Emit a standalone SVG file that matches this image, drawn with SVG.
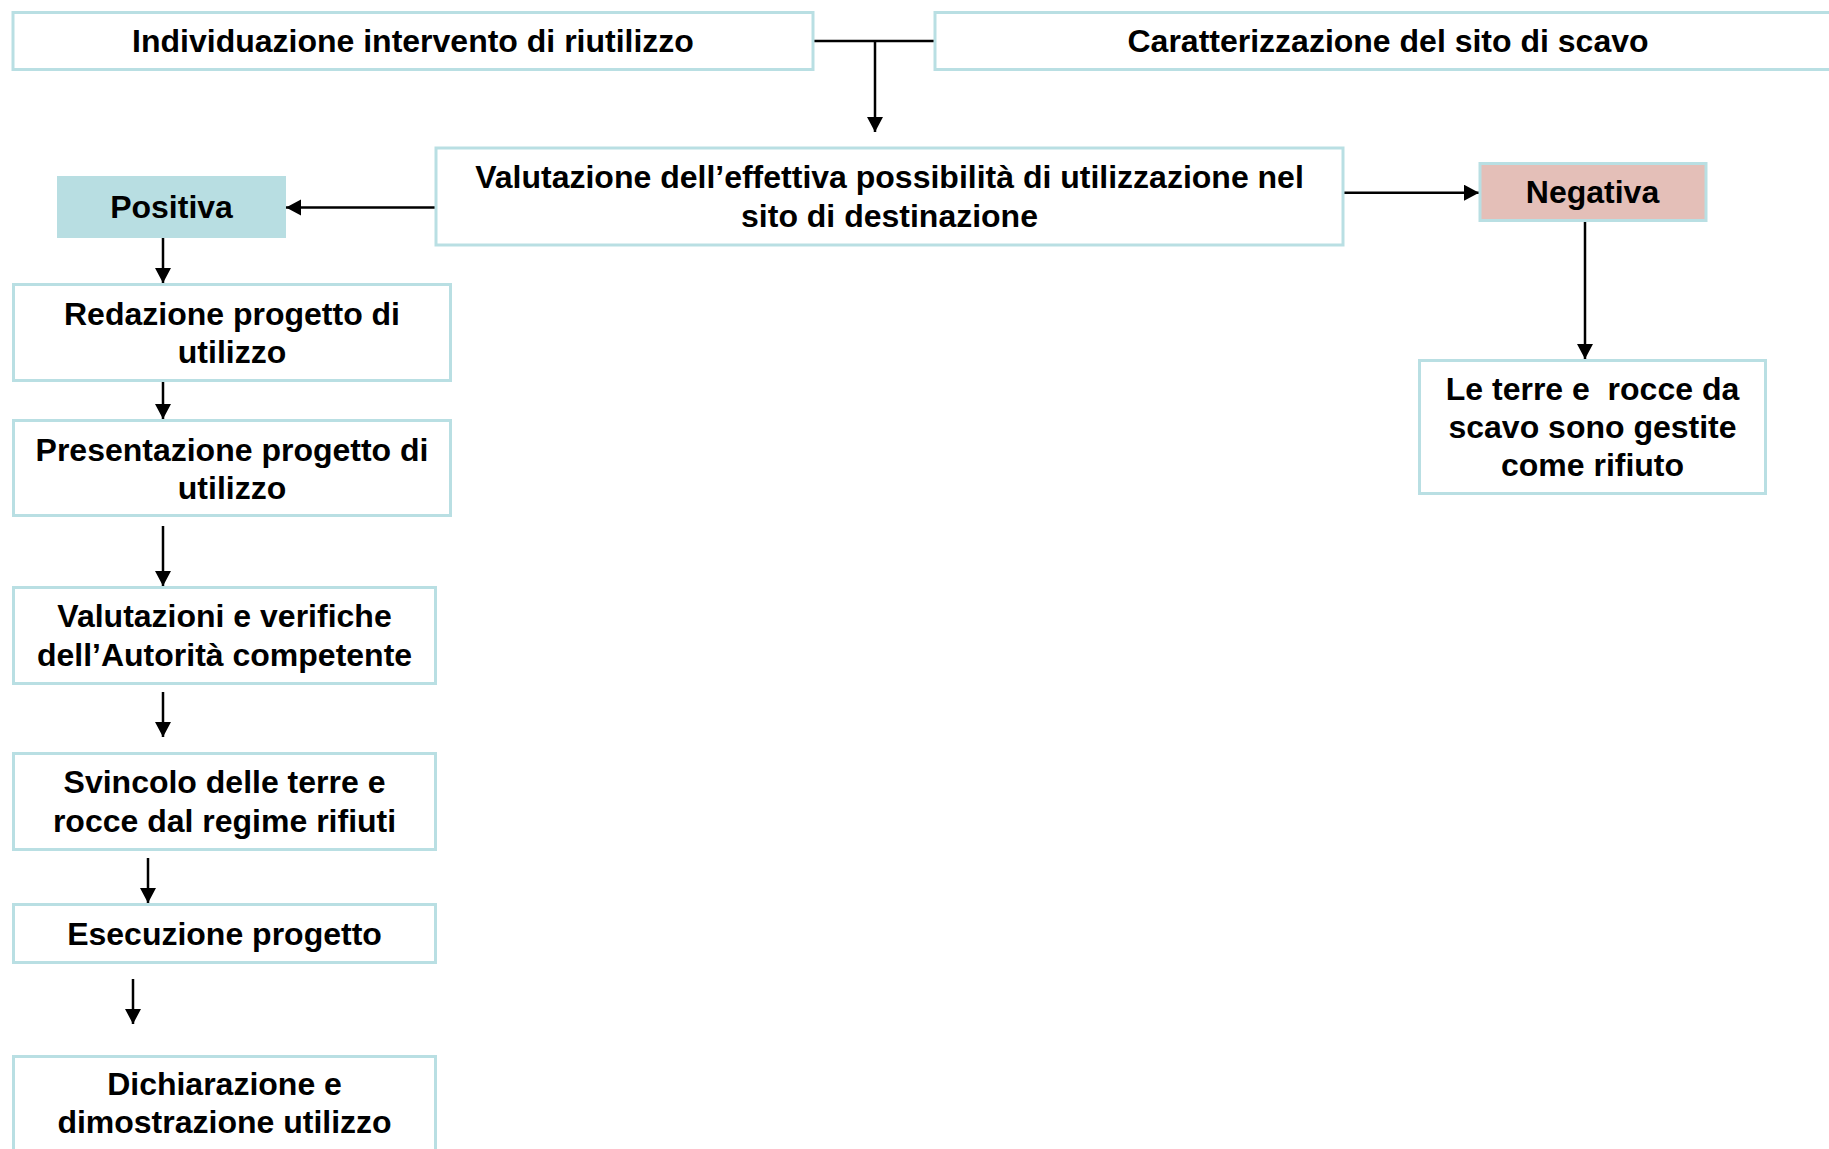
<svg xmlns="http://www.w3.org/2000/svg" width="1829" height="1149" viewBox="0 0 1829 1149">
<defs>
<style>
.box{fill:#ffffff;stroke:#b9dfe3;stroke-width:3}
.pos{fill:#b8dee2;stroke:#b8dee2;stroke-width:3}
.neg{fill:#e4bfb8;stroke:#b9dfe3;stroke-width:3}
.t{font-family:"Liberation Sans",Arial,sans-serif;font-weight:bold;font-size:32px;fill:#000;text-anchor:middle}
.c{fill:none;stroke:#000;stroke-width:2.5}
</style>
<marker id="ah" markerUnits="userSpaceOnUse" markerWidth="17" markerHeight="17" refX="15" refY="8" orient="auto">
<path d="M0,0 L15,8 L0,16 z" fill="#000"/>
</marker>
</defs>
<rect width="1829" height="1149" fill="#ffffff"/>
<g id="connectors">
<path class="c" d="M814,41 H934" stroke-width="3"/>
<path class="c" d="M875,41 V132" marker-end="url(#ah)"/>
<path class="c" d="M435,207.5 H286" marker-end="url(#ah)"/>
<path class="c" d="M1344,192.7 H1479" marker-end="url(#ah)"/>
<path class="c" d="M1585,222 V359" marker-end="url(#ah)"/>
<path class="c" d="M163,238 V283" marker-end="url(#ah)"/>
<path class="c" d="M163,374 V419" marker-end="url(#ah)"/>
<path class="c" d="M163,526 V586" marker-end="url(#ah)"/>
<path class="c" d="M163,692 V737" marker-end="url(#ah)"/>
<path class="c" d="M148,858 V903" marker-end="url(#ah)"/>
<path class="c" d="M133,979 V1024" marker-end="url(#ah)"/>
</g>
<g id="n-individuazione">
<rect class="box" x="13" y="12.5" width="800" height="57"/>
<text class="t" x="413" y="51.5">Individuazione intervento di riutilizzo</text>
</g>
<g id="n-caratterizzazione">
<rect class="box" x="935" y="12.5" width="910" height="57"/>
<text class="t" x="1388" y="51.5">Caratterizzazione del sito di scavo</text>
</g>
<g id="n-valutazione">
<rect class="box" x="436" y="148" width="907" height="97"/>
<text class="t" x="889.5" y="188.3">Valutazione dell’effettiva possibilità di utilizzazione nel</text>
<text class="t" x="889.5" y="226.7">sito di destinazione</text>
</g>
<g id="n-positiva">
<rect class="pos" x="58.5" y="177.5" width="226" height="59"/>
<text class="t" x="171.5" y="218">Positiva</text>
</g>
<g id="n-negativa">
<rect class="neg" x="1480" y="163.5" width="226" height="57"/>
<text class="t" x="1592.5" y="203">Negativa</text>
</g>
<g id="n-leterre">
<rect class="box" x="1419.5" y="360.5" width="346" height="133"/>
<text class="t" x="1592.5" y="399.6" style="white-space:pre">Le terre e  rocce da</text>
<text class="t" x="1592.5" y="438">scavo sono gestite</text>
<text class="t" x="1592.5" y="476.4">come rifiuto</text>
</g>
<g id="n-redazione">
<rect class="box" x="13.5" y="284.5" width="437" height="96"/>
<text class="t" x="232" y="324.5">Redazione progetto di</text>
<text class="t" x="232" y="362.9">utilizzo</text>
</g>
<g id="n-presentazione">
<rect class="box" x="13.5" y="420.5" width="437" height="95"/>
<text class="t" x="232" y="460.8">Presentazione progetto di</text>
<text class="t" x="232" y="499.2">utilizzo</text>
</g>
<g id="n-valutazioni">
<rect class="box" x="13.5" y="587.5" width="422" height="96"/>
<text class="t" x="224.5" y="627.3">Valutazioni e verifiche</text>
<text class="t" x="224.5" y="665.7">dell’Autorità competente</text>
</g>
<g id="n-svincolo">
<rect class="box" x="13.5" y="753.5" width="422" height="96"/>
<text class="t" x="224.5" y="793.3">Svincolo delle terre e</text>
<text class="t" x="224.5" y="831.7">rocce dal regime rifiuti</text>
</g>
<g id="n-esecuzione">
<rect class="box" x="13.5" y="904.5" width="422" height="58"/>
<text class="t" x="224.5" y="944.5">Esecuzione progetto</text>
</g>
<g id="n-dichiarazione">
<rect class="box" x="13.5" y="1056.5" width="422" height="96"/>
<text class="t" x="224.5" y="1095">Dichiarazione e</text>
<text class="t" x="224.5" y="1133.4">dimostrazione utilizzo</text>
</g>
</svg>
